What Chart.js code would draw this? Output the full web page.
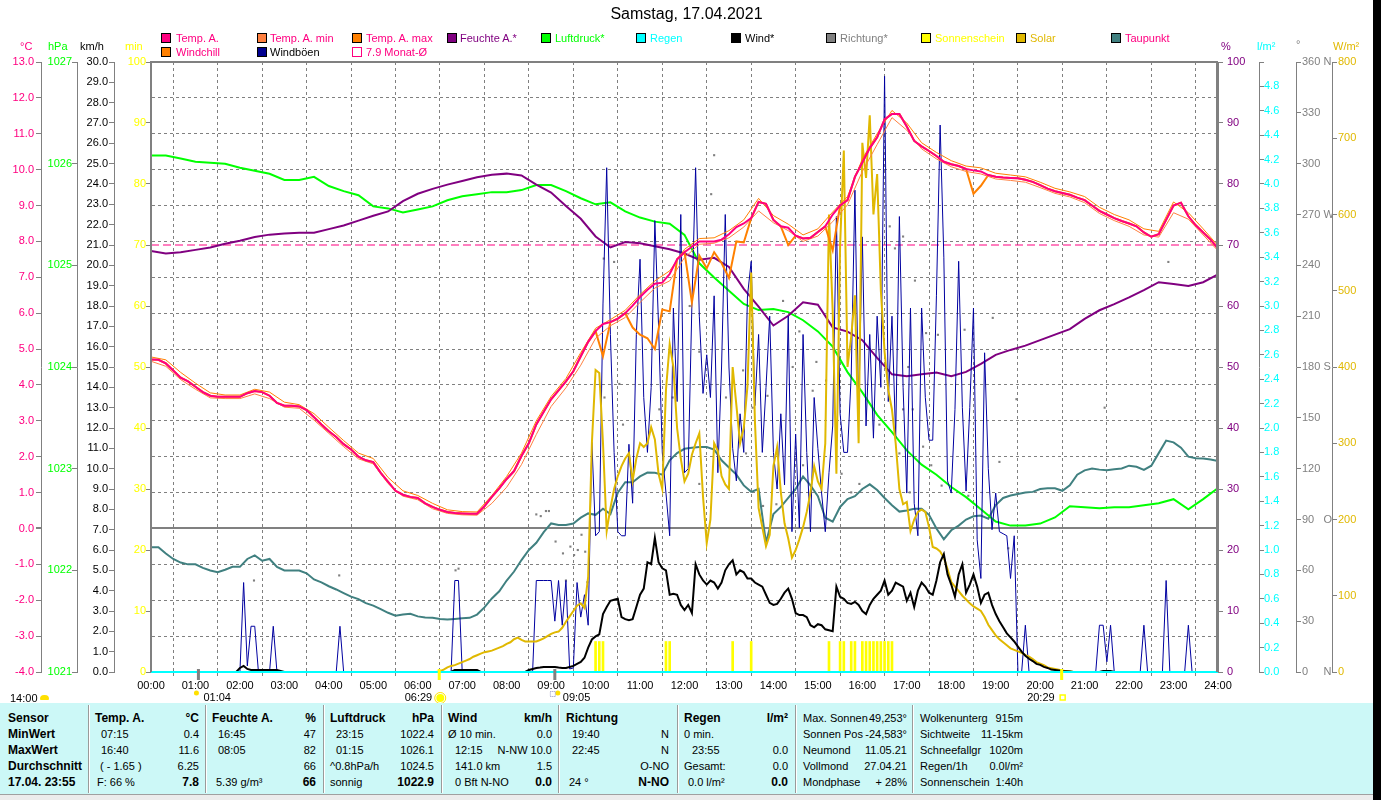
<!DOCTYPE html>
<html lang="de">
<head>
<meta charset="UTF-8">
<title>Wetter Samstag 17.04.2021</title>
<script src="https://cdn.jsdelivr.net/npm/chart.js@4.4.0/dist/chart.umd.min.js"></script>
<style>
  body { margin:0; background:#fff; font-family:"Liberation Sans", Arial, sans-serif; }
  #wrap { position:relative; width:1381px; height:800px; overflow:hidden; background:#fff; }
  #chartBox { position:absolute; left:0; top:0; width:1381px; height:703px; }
  .t { position:absolute; white-space:nowrap; font-size:11px; line-height:14px; }
  .sq { position:absolute; width:8px; height:8px; border:1px solid #000; }
  #title { position:absolute; left:0; width:1373px; top:5px; text-align:center; font-size:16px; }
  #info { position:absolute; left:0; top:703px; width:1373px; height:91px; background:#CCF8F7; font-size:11px; }
  .col { position:absolute; top:7px; }
  .r { height:16px; line-height:16px; display:flex; justify-content:space-between; white-space:nowrap; }
  .b { font-weight:bold; font-size:12px; }
  .sep { position:absolute; top:2px; width:1px; height:88px; background:#9A9A9A; border-right:1px solid #fff; }
  #foot { position:absolute; left:0; top:794px; width:1373px; height:6px; background:#ECECEC; border-top:1px solid #A0A0A0; }
  #strip { position:absolute; left:1373px; top:0; width:8px; height:800px; background:#000; }
</style>
</head>
<body>
<div id="wrap">
  <div id="chartBox"><canvas id="wetter" width="1381" height="703"></canvas></div>

  <div id="title">Samstag, 17.04.2021</div>

  <!-- Legende -->
  <div class="sq" style="left:161px;top:33px;background:#FF0080"></div><div class="t" style="left:176px;top:31px;color:#FF0080">Temp. A.</div>
  <div class="sq" style="left:257px;top:33px;background:#FF8040"></div><div class="t" style="left:270px;top:31px;color:#FF0080">Temp. A. min</div>
  <div class="sq" style="left:352px;top:33px;background:#FF8000"></div><div class="t" style="left:366px;top:31px;color:#FF0080">Temp. A. max</div>
  <div class="sq" style="left:447px;top:33px;background:#800080"></div><div class="t" style="left:460px;top:31px;color:#800080">Feuchte A.*</div>
  <div class="sq" style="left:541px;top:33px;background:#00FF00"></div><div class="t" style="left:555px;top:31px;color:#00FF00">Luftdruck*</div>
  <div class="sq" style="left:636px;top:33px;background:#00FFFF"></div><div class="t" style="left:650px;top:31px;color:#00FFFF">Regen</div>
  <div class="sq" style="left:731px;top:33px;background:#000000"></div><div class="t" style="left:745px;top:31px;color:#000">Wind*</div>
  <div class="sq" style="left:826px;top:33px;background:#808080"></div><div class="t" style="left:840px;top:31px;color:#808080">Richtung*</div>
  <div class="sq" style="left:921px;top:33px;background:#FFFF00"></div><div class="t" style="left:935px;top:31px;color:#FFFF00">Sonnenschein</div>
  <div class="sq" style="left:1016px;top:33px;background:#E0B800"></div><div class="t" style="left:1030px;top:31px;color:#E0B800">Solar</div>
  <div class="sq" style="left:1111px;top:33px;background:#408080"></div><div class="t" style="left:1125px;top:31px;color:#FF0080">Taupunkt</div>
  <div class="sq" style="left:161px;top:47px;background:#FF8000"></div><div class="t" style="left:176px;top:45px;color:#FF0080">Windchill</div>
  <div class="sq" style="left:257px;top:47px;background:#000090"></div><div class="t" style="left:270px;top:45px;color:#000">Windböen</div>
  <div class="sq" style="left:352px;top:47px;background:transparent;border-color:#FF0080"></div><div class="t" style="left:366px;top:45px;color:#FF0080">7.9 Monat-Ø</div>

  <!-- Achsen-Einheiten -->
  <div class="t" style="left:20px;top:39px;color:#FF0080">°C</div>
  <div class="t" style="left:48px;top:39px;color:#00FF00">hPa</div>
  <div class="t" style="left:80px;top:39px;color:#000">km/h</div>
  <div class="t" style="left:125px;top:39px;color:#FFFF00">min</div>
  <div class="t" style="left:1221px;top:39px;color:#800080">%</div>
  <div class="t" style="left:1257px;top:39px;color:#00FFFF">l/m²</div>
  <div class="t" style="left:1296px;top:37px;color:#808080">°</div>
  <div class="t" style="left:1333px;top:39px;color:#E0B800">W/m²</div>

  <div class="t" style="left:10px;top:691px;color:#000">14:00</div>
  <div style="position:absolute;left:40px;top:695px;width:9px;height:5px;background:#FFE000;border-radius:4px 4px 1px 1px"></div>

  <!-- Tabelle -->
  <div id="info">
    <div class="col" style="left:8px;width:78px">
      <div class="r b">Sensor</div><div class="r b">MinWert</div><div class="r b">MaxWert</div>
      <div class="r b">Durchschnitt</div><div class="r b">17.04. 23:55</div>
    </div>
    <div class="sep" style="left:88px"></div>
    <div class="col" style="left:95px;width:104px">
      <div class="r b"><span>Temp. A.</span><span>°C</span></div>
      <div class="r"><span style="padding-left:6px">07:15</span><span>0.4</span></div>
      <div class="r"><span style="padding-left:6px">16:40</span><span>11.6</span></div>
      <div class="r"><span style="padding-left:5px">( - 1.65 )</span><span>6.25</span></div>
      <div class="r"><span style="padding-left:2px">F: 66 %</span><span class="b">7.8</span></div>
    </div>
    <div class="sep" style="left:205px"></div>
    <div class="col" style="left:212px;width:104px">
      <div class="r b"><span>Feuchte A.</span><span>%</span></div>
      <div class="r"><span style="padding-left:6px">16:45</span><span>47</span></div>
      <div class="r"><span style="padding-left:6px">08:05</span><span>82</span></div>
      <div class="r"><span></span><span>66</span></div>
      <div class="r"><span style="padding-left:4px">5.39 g/m³</span><span class="b">66</span></div>
    </div>
    <div class="sep" style="left:323px"></div>
    <div class="col" style="left:330px;width:104px">
      <div class="r b"><span>Luftdruck</span><span>hPa</span></div>
      <div class="r"><span style="padding-left:6px">23:15</span><span>1022.4</span></div>
      <div class="r"><span style="padding-left:6px">01:15</span><span>1026.1</span></div>
      <div class="r"><span>^0.8hPa/h</span><span>1024.5</span></div>
      <div class="r"><span>sonnig</span><span class="b">1022.9</span></div>
    </div>
    <div class="sep" style="left:441px"></div>
    <div class="col" style="left:448px;width:104px">
      <div class="r b"><span>Wind</span><span>km/h</span></div>
      <div class="r"><span>Ø 10 min.</span><span>0.0</span></div>
      <div class="r"><span style="padding-left:7px">12:15</span><span>N-NW 10.0</span></div>
      <div class="r"><span style="padding-left:7px">141.0 km</span><span>1.5</span></div>
      <div class="r"><span style="padding-left:7px">0 Bft N-NO</span><span class="b">0.0</span></div>
    </div>
    <div class="sep" style="left:558px"></div>
    <div class="col" style="left:566px;width:103px">
      <div class="r b"><span>Richtung</span><span></span></div>
      <div class="r"><span style="padding-left:6px">19:40</span><span>N</span></div>
      <div class="r"><span style="padding-left:6px">22:45</span><span>N</span></div>
      <div class="r"><span></span><span>O-NO</span></div>
      <div class="r"><span style="padding-left:3px">24 °</span><span class="b">N-NO</span></div>
    </div>
    <div class="sep" style="left:677px"></div>
    <div class="col" style="left:684px;width:104px">
      <div class="r b"><span>Regen</span><span>l/m²</span></div>
      <div class="r"><span>0 min.</span><span></span></div>
      <div class="r"><span style="padding-left:8px">23:55</span><span>0.0</span></div>
      <div class="r"><span>Gesamt:</span><span>0.0</span></div>
      <div class="r"><span style="padding-left:4px">0.0 l/m²</span><span class="b">0.0</span></div>
    </div>
    <div class="sep" style="left:795px"></div>
    <div class="col" style="left:803px;width:104px">
      <div class="r"><span>Max. Sonnen</span><span>49,253°</span></div>
      <div class="r"><span>Sonnen Pos</span><span>-24,583°</span></div>
      <div class="r"><span>Neumond</span><span>11.05.21</span></div>
      <div class="r"><span>Vollmond</span><span>27.04.21</span></div>
      <div class="r"><span>Mondphase</span><span>+ 28%</span></div>
    </div>
    <div class="sep" style="left:912px"></div>
    <div class="col" style="left:920px;width:103px">
      <div class="r"><span>Wolkenunterg</span><span>915m</span></div>
      <div class="r"><span>Sichtweite</span><span>11-15km</span></div>
      <div class="r"><span>Schneefallgr</span><span>1020m</span></div>
      <div class="r"><span>Regen/1h</span><span>0.0l/m²</span></div>
      <div class="r"><span>Sonnenschein</span><span>1:40h</span></div>
    </div>
  </div>
  <div id="foot"></div>
  <div id="strip"></div>
</div>

<script>
// --- Messwerte 17.04.2021 (Zeit in Minuten ab 00:00) ---

const hourLabels = ['00:00','01:00','02:00','03:00','04:00','05:00','06:00','07:00','08:00','09:00',
  '10:00','11:00','12:00','13:00','14:00','15:00','16:00','17:00','18:00','19:00',
  '20:00','21:00','22:00','23:00','24:00'];

// Temp. A. alle 10 min (°C)
const tempA = [
  4.71,4.70,4.60,4.40,4.20,4.10,3.95,3.80,3.70,3.67,
  3.67,3.67,3.67,3.77,3.83,3.80,3.70,3.50,3.42,3.42,
  3.40,3.30,3.10,2.90,2.71,2.55,2.35,2.20,2.00,1.90,
  1.85,1.55,1.30,1.05,0.94,0.88,0.85,0.70,0.60,0.52,
  0.46,0.43,0.42,0.41,0.41,0.62,0.88,1.12,1.38,1.60,
  2.02,2.38,2.90,3.25,3.60,3.85,4.10,4.38,4.80,5.20,
  5.50,5.70,5.75,5.85,6.00,6.21,6.45,6.65,6.82,6.85,
  7.09,7.50,7.70,7.85,8.00,8.00,8.00,8.05,8.20,8.40,
  8.50,8.65,9.10,9.05,8.60,8.42,8.38,8.16,8.08,8.10,
  8.26,8.42,8.75,9.00,9.15,9.80,10.20,10.60,10.90,11.40,
  11.55,11.55,11.20,10.80,10.65,10.52,10.38,10.22,10.15,10.10,
  10.02,9.98,9.95,9.85,9.80,9.78,9.77,9.76,9.72,9.66,
  9.57,9.47,9.40,9.35,9.30,9.22,9.15,9.00,8.85,8.75,
  8.65,8.57,8.50,8.42,8.25,8.13,8.20,8.60,9.00,9.08,
  8.70,8.45,8.25,8.05,7.80];

// Windchill alle 10 min (°C)
const windchill = [
  4.71,4.70,4.60,4.40,4.20,4.10,3.95,3.80,3.70,3.67,
  3.67,3.67,3.67,3.77,3.83,3.80,3.70,3.50,3.42,3.42,
  3.40,3.30,3.10,2.90,2.71,2.55,2.35,2.20,2.00,1.90,
  1.85,1.55,1.30,1.05,0.94,0.88,0.85,0.70,0.60,0.52,
  0.46,0.43,0.42,0.41,0.41,0.62,0.88,1.12,1.38,1.60,
  2.02,2.38,2.90,3.25,3.60,3.85,4.10,4.38,4.80,5.20,
  5.50,4.80,5.75,5.85,6.00,5.60,5.40,5.30,5.00,6.10,
  6.05,7.50,7.70,6.30,7.60,7.25,7.70,7.40,6.98,8.00,
  7.97,8.65,9.10,9.05,8.60,8.42,7.90,8.16,8.08,8.10,
  8.26,8.42,7.75,9.00,9.15,9.80,10.20,10.60,10.90,11.40,
  11.55,11.55,11.20,10.80,10.65,10.52,10.38,10.22,10.15,10.10,
  10.02,9.33,9.55,9.85,9.80,9.78,9.77,9.76,9.72,9.66,
  9.57,9.47,9.40,9.35,9.30,9.22,9.15,9.00,8.85,8.75,
  8.65,8.57,8.50,8.42,8.25,8.13,8.20,8.60,9.00,9.08,
  8.70,8.45,8.25,8.05,7.80];

// Temp. A. max / min alle 20 min (°C)
const tempMax = [
  4.78,4.70,4.35,4.05,3.78,3.72,3.72,3.88,3.80,3.52,
  3.45,3.20,2.82,2.45,2.10,1.95,1.42,1.05,0.92,0.70,
  0.52,0.47,0.46,0.92,1.45,2.10,3.00,3.68,4.18,4.90,
  5.58,5.82,6.08,6.52,6.90,7.18,7.78,8.08,8.10,8.30,
  8.60,9.20,8.72,8.48,8.18,8.35,8.82,9.25,10.30,11.00,
  11.65,11.30,10.75,10.48,10.25,10.10,10.05,9.90,9.85,9.80,
  9.65,9.48,9.38,9.25,8.95,8.75,8.60,8.35,8.28,9.10,
  8.80,8.35,7.88];
const tempMin = [
  4.66,4.52,4.15,3.88,3.64,3.62,3.62,3.75,3.62,3.38,
  3.35,3.02,2.65,2.28,1.94,1.80,1.25,0.90,0.80,0.55,
  0.42,0.38,0.37,0.70,1.15,1.78,2.62,3.40,3.92,4.55,
  5.30,5.65,5.88,6.30,6.70,6.90,7.55,7.92,7.95,8.10,
  8.40,8.85,8.52,8.30,8.00,8.15,8.55,9.02,9.95,10.70,
  11.45,11.10,10.58,10.30,10.08,9.95,9.88,9.74,9.70,9.65,
  9.50,9.34,9.24,9.08,8.78,8.58,8.42,8.18,8.12,8.80,
  8.62,8.18,7.74];

// Feuchte A. alle 20 min (%)
const humidity = [
  69.0,68.6,68.8,69.2,69.6,70.2,70.7,71.3,71.7,71.9,
  72.0,72.0,72.6,73.2,74.0,74.8,75.5,77.2,78.4,79.2,
  79.9,80.5,81.1,81.5,81.7,81.4,79.9,78.6,76.4,74.3,
  71.4,69.6,70.5,70.3,69.8,69.3,68.6,67.6,67.9,66.4,
  62.8,59.9,56.8,58.4,60.6,60.2,56.5,55.8,54.4,51.5,
  48.8,48.5,48.8,49.1,48.5,49.2,50.5,52.0,52.8,53.5,
  54.4,55.3,56.2,57.9,59.3,60.3,61.4,62.6,63.9,63.6,
  63.3,63.9,65.2];

// Luftdruck alle 20 min (hPa)
const pressure = [
  1026.08,1026.08,1026.05,1026.02,1026.01,1026.00,1025.96,1025.93,1025.90,1025.84,
  1025.84,1025.87,1025.78,1025.73,1025.69,1025.58,1025.56,1025.52,1025.55,1025.58,
  1025.64,1025.68,1025.70,1025.72,1025.72,1025.74,1025.79,1025.79,1025.73,1025.66,
  1025.60,1025.62,1025.53,1025.47,1025.43,1025.41,1025.30,1025.02,1024.88,1024.75,
  1024.62,1024.56,1024.57,1024.54,1024.46,1024.35,1024.20,1023.95,1023.75,1023.53,
  1023.36,1023.18,1023.04,1022.94,1022.82,1022.72,1022.60,1022.48,1022.44,1022.44,
  1022.46,1022.52,1022.63,1022.62,1022.61,1022.62,1022.62,1022.64,1022.66,1022.70,
  1022.60,1022.70,1022.81];

// Taupunkt alle 10 min (°C)
const dewpoint = [
  -0.52,-0.52,-0.70,-0.85,-0.95,-1.00,-1.00,-1.10,-1.17,-1.22,
  -1.15,-1.07,-1.07,-0.85,-0.75,-0.90,-0.85,-1.07,-1.17,-1.17,
  -1.17,-1.25,-1.42,-1.50,-1.61,-1.70,-1.80,-1.90,-1.97,-2.08,
  -2.15,-2.25,-2.35,-2.43,-2.40,-2.38,-2.45,-2.48,-2.49,-2.52,
  -2.54,-2.52,-2.50,-2.49,-2.40,-2.20,-1.95,-1.75,-1.45,-1.20,
  -0.88,-0.60,-0.40,-0.10,0.14,0.10,0.10,0.14,0.30,0.42,
  0.38,0.55,0.40,1.00,1.29,1.29,1.45,1.56,1.55,1.50,
  1.90,2.10,2.22,2.25,2.27,2.27,2.20,1.90,1.70,1.50,
  1.20,1.02,1.10,-0.40,0.40,0.60,0.85,1.10,1.45,1.20,
  0.90,0.30,0.19,0.60,0.82,0.90,1.10,1.23,1.07,0.85,
  0.65,0.47,0.50,0.55,0.55,0.38,0.00,-0.30,-0.05,0.08,
  0.25,0.34,0.36,0.27,0.65,0.85,0.92,0.96,1.00,1.02,
  1.10,1.12,1.12,1.05,1.20,1.50,1.62,1.67,1.64,1.62,
  1.65,1.67,1.75,1.72,1.63,1.75,2.10,2.45,2.40,2.25,
  2.00,1.96,1.95,1.92,1.88];

// Wind* alle 5 min (km/h), eine Zeile je Stunde
const wind = [
  0,0,0,0,0,0,0,0,0,0,0,0,
  0,0,0,0,0,0,0,0,0,0,0,0,
  0.20,0.30,0.15,0.10,0.10,0.10,0.10,0.10,0.10,0.10,0.10,0.05,
  0,0,0,0,0,0,0,0,0,0,0,0,
  0,0,0,0,0,0,0,0,0,0,0,0,
  0,0,0,0,0,0,0,0,0,0,0,0,
  0,0,0,0,0,0,0,0,0,0,0.10,0.10,
  0.10,0.10,0.10,0.10,0.10,0,0,0,0,0,0,0,
  0,0,0,0,0,0,0.10,0.15,0.20,0.22,0.25,0.25,
  0.25,0.25,0.22,0.20,0.20,0.25,0.30,0.40,0.50,0.70,1.20,1.60,
  1.75,1.85,2.85,3.20,3.50,3.55,3.60,2.70,2.60,2.55,2.60,3.20,
  3.80,4.10,5.40,5.30,6.60,5.40,5.10,5.00,3.80,3.85,3.80,3.30,
  3.05,3.30,2.90,5.30,4.80,4.50,4.30,4.50,4.40,4.10,4.40,5.00,
  5.30,5.50,4.80,5.00,4.90,4.60,4.60,4.40,4.30,4.20,3.80,3.40,
  3.30,3.35,3.60,3.90,4.10,3.60,2.90,2.80,2.80,2.70,2.30,2.20,
  2.35,2.30,2.10,2.05,2.00,4.20,3.70,3.60,3.40,3.35,3.45,3.30,
  3.00,2.85,3.30,3.60,3.80,4.00,4.50,3.80,4.00,4.40,4.30,4.20,
  3.50,3.90,3.20,4.00,4.40,4.20,3.90,3.80,4.50,5.40,5.80,4.80,
  4.30,3.70,4.80,5.30,3.90,4.30,4.80,4.20,3.40,3.80,3.90,3.30,
  2.85,2.50,2.20,1.90,1.70,1.50,1.25,1.00,0.80,0.65,0.54,0.40,
  0.35,0.25,0.20,0.12,0.10,0.08,0.05,0.04,0.02,0,0,0,
  0,0,0,0,0,0.05,0.05,0.05,0,0,0,0,
  0,0,0,0,0,0,0,0,0,0,0,0,
  0,0,0,0,0,0,0,0,0,0,0,0,
  0];

// Windböen alle 5 min (km/h)
const gusts = [
  0,0,0,0,0,0,0,0,0,0,0,0,
  0,0,0,0,0,0,0,0,0,0,0,0,
  0,4.40,0.30,2.25,2.25,0,0,0,0,2.25,0,0,
  0,0,0,0,0,0,0,0,0,0,0,0,
  0,0,0,2.25,0,0,0,0,0,0,0,0,
  0,0,0,0,0,0,0,0,0,0,0,0,
  0,0,0,0,0,0,0,0,0,0,4.50,4.50,
  0,0,0,0,0,0,0,0,0,0,0,0,
  0,0,0,0,0,0,0,0,4.50,4.50,4.50,4.50,
  4.50,2.50,4.50,2.30,4.50,0.15,0.20,4.40,2.70,3.80,2.30,11.30,
  6.70,6.90,18.10,24.80,16.60,10.80,6.90,6.70,6.70,11.20,8.30,16.60,
  20.30,13.50,10.80,14.00,22.20,17.00,10.80,8.80,6.70,17.90,13.30,22.50,
  9.80,10.00,18.10,24.80,17.50,13.70,15.60,13.50,18.50,9.80,15.00,22.50,
  15.00,11.00,9.40,12.70,10.80,18.50,20.20,13.10,16.60,10.80,14.00,17.50,
  10.80,9.00,12.70,9.20,17.50,6.90,11.70,7.10,16.60,10.80,6.90,13.50,
  11.00,8.80,6.90,9.80,12.10,22.40,12.70,10.80,10.80,14.60,23.70,12.70,
  21.40,12.10,16.60,11.50,17.50,14.00,29.30,13.30,17.50,11.50,22.40,14.00,
  8.80,17.90,8.30,6.70,17.90,13.50,11.40,11.40,18.50,26.90,20.40,9.40,
  8.80,12.90,20.20,13.00,8.90,13.00,17.90,6.50,4.60,15.70,10.00,7.00,
  8.80,6.90,6.80,6.70,4.60,6.70,0,0,2.30,0,0,0,
  0,0,0,0,0,0,0,0,0,0,0,0,
  0,0,0,0,2.30,2.30,0.50,2.30,0,0,0,0,
  0,0,0,0,2.30,0,0,0,0,0,4.50,0,
  0,0,0,0,2.30,0,0,0,0,0,0,0,
  0];

// Solar alle 5 min (W/m²)
const solar = [
  0,0,0,0,0,0,0,0,0,0,0,0,
  0,0,0,0,0,0,0,0,0,0,0,0,
  0,0,0,0,0,0,0,0,0,0,0,0,
  0,0,0,0,0,0,0,0,0,0,0,0,
  0,0,0,0,0,0,0,0,0,0,0,0,
  0,0,0,0,0,0,0,0,0,0,0,0,
  0,0,0,0,0,0,1,3,6,8,9,11,
  13,15,17,20,22,24,26,27,28,30,32,34,
  37,39,43,45,42,40,40,40,40,42,44,47,
  50,52,53,58,66,73,80,87,90,84,125,300,
  396,392,300,185,215,240,257,270,280,287,251,280,
  300,295,300,321,305,260,240,370,430,400,320,280,
  250,260,285,300,313,230,169,200,300,290,257,246,
  240,400,350,300,320,375,524,330,215,190,165,180,
  270,295,236,195,175,150,160,174,190,210,235,270,
  250,240,300,600,473,260,560,684,400,440,494,300,
  694,648,730,600,653,500,420,370,344,300,240,220,
  223,185,200,210,213,210,190,164,162,158,150,135,
  118,112,106,100,95,90,86,83,80,72,62,55,
  48,43,39,35,31,29,27,25,22,20,17,13,
  11,9,6,5,4,3,2,1,1,0,0,0,
  0,0,0,0,0,0,0,0,0,0,0,0,
  0,0,0,0,0,0,0,0,0,0,0,0,
  0,0,0,0,0,0,0,0,0,0,0,0,
  0];

// Sonnenschein (min je 5-min-Intervall)
const sunTimes = [600,605,610,695,700,785,810,915,930,935,945,950,960,965,970,975,980,985,990,995,1000];
const sunMinutes = [5,5,5,5,5,5,5,5,5,5,5,5,5,5,5,5,5,5,5,5,5];

// Richtung* (Grad)
const dirTimes = [139,254,411,415,520,526,533,537,546,556,560,566,571,576,581,586,589,
  611,612,625,632,637,686,704,727,740,740,756,760,776,799,803,812,826,832,844,853,866,
  875,880,893,898,911,932,945,956,983,997,1004,1010,1015,1015,1022,1024,1028,1031,1042,
  1046,1053,1062,1067,1098,1103,1136,1145,1157,1168,1287,1373];
const dirDegrees = [54,57,60,61,93,92,95,95,77,70,54,74,69,72,81,71,53,
  244,162,242,170,146,155,162,216,189,111,282,305,162,178,129,156,98,163,99,219,180,
  201,122,166,183,172,117,106,111,146,263,250,129,257,155,180,106,155,231,133,
  200,122,199,110,202,104,209,124,73,161,156,242];

// Regen (l/m²)
const rainTimes = [0, 1440];
const rainValues = [0, 0];

const monthAvg = 7.9;

// Sonne / Mond
const eventTimes = [64, 389, 545, 1229];
const eventLabels = ['01:04', '06:29', '09:05', '20:29'];
const eventKinds = ['moonset', 'sunrise', 'moonrise', 'sunset'];

const compass = {0: 'N', 90: 'O', 180: 'S', 270: 'W', 360: 'N'};

// --- Aufbau ---
const byStep = (vals, step) => vals.map((v, i) => ({x: i * step, y: v}));
const byTimes = (times, vals) => times.map((t, i) => ({x: t, y: vals[i]}));

const GRAY = '#808080';
Chart.defaults.font.family = '"Liberation Sans", Arial, sans-serif';
Chart.defaults.font.size = 11;

function sideAxis(position, weight, width, min, max, step, color, pad, fmt) {
  return {
    type: 'linear', position, weight, min, max,
    afterFit: s => { s.width = width; },
    ticks: { stepSize: step, color, autoSkip: false, maxTicksLimit: 1000, padding: pad, callback: fmt },
    grid: { drawOnChartArea: false, color: GRAY, tickLength: 5 },
    border: { color: GRAY, width: 1 }
  };
}

const line = (label, data, axis, color, width, extra) => Object.assign({
  label, data, yAxisID: axis, borderColor: color, backgroundColor: color,
  borderWidth: width, pointRadius: 0, tension: 0, fill: false
}, extra || {});

const frame = {
  id: 'frame',
  afterDatasetsDraw(chart) {
    const {ctx, chartArea: a} = chart;
    ctx.save();
    ctx.strokeStyle = GRAY;
    ctx.lineWidth = 2;
    ctx.beginPath();
    ctx.moveTo(a.left, a.bottom);
    ctx.lineTo(a.left, a.top);
    ctx.lineTo(a.right - 1, a.top);
    ctx.lineTo(a.right - 1, a.bottom);
    ctx.stroke();
    ctx.restore();
  }
};

const dayMarks = {
  id: 'dayMarks',
  afterDraw(chart) {
    const {ctx, chartArea: a, scales: {x}} = chart;
    const ly = a.bottom + 26;
    ctx.save();
    ctx.font = '11px "Liberation Sans", Arial, sans-serif';
    ctx.textBaseline = 'middle';
    eventTimes.forEach((t, i) => {
      const px = x.getPixelForValue(t);
      const kind = eventKinds[i];
      const sun = kind.indexOf('sun') === 0;
      ctx.fillStyle = sun ? '#FFFF00' : GRAY;
      ctx.fillRect(px - 1.5, a.bottom - 3, 3, 11);
      ctx.fillStyle = '#000';
      if (sun) {
        ctx.textAlign = 'right';
        ctx.fillText(eventLabels[i], px - 7, ly);
      } else {
        ctx.textAlign = 'left';
        ctx.fillText(eventLabels[i], px + (kind === 'moonset' ? 5 : 8), ly);
      }
      if (kind === 'sunrise') {
        ctx.fillStyle = '#FFFF00';
        ctx.beginPath(); ctx.arc(px + 1, ly, 4, 0, Math.PI * 2); ctx.fill();
        ctx.strokeStyle = '#FFE000'; ctx.lineWidth = 1;
        ctx.beginPath(); ctx.arc(px + 1, ly, 5.5, 0, Math.PI * 2); ctx.stroke();
      } else if (kind === 'sunset') {
        ctx.strokeStyle = '#FFFF00'; ctx.lineWidth = 1.5;
        ctx.strokeRect(px - 1.5, ly - 3, 5, 5);
      } else {
        ctx.fillStyle = '#FFE000';
        ctx.beginPath(); ctx.arc(px + (kind === 'moonset' ? -2 : 3), a.bottom + 21, 2.5, 0, Math.PI * 2); ctx.fill();
        if (kind === 'moonrise') {
          ctx.strokeStyle = '#9090C0'; ctx.lineWidth = 1; ctx.setLineDash([1, 1]);
          ctx.strokeRect(px - 4.5, a.bottom + 19.5, 5, 5);
          ctx.setLineDash([]);
        }
      }
    });
    ctx.restore();
  }
};

new Chart(document.getElementById('wetter'), {
  type: 'line',
  data: {
    datasets: [
      line('Regen', byTimes(rainTimes, rainValues), 'yRain', '#00FFFF', 2, {clip: false}),
      line('Temp. A.', byStep(tempA, 10), 'yT', '#FF0080', 2),
      line('Temp. A. max', byStep(tempMax, 20), 'yT', '#FF8000', 1),
      line('Temp. A. min', byStep(tempMin, 20), 'yT', '#FF8040', 1),
      line('Windchill', byStep(windchill, 10), 'yT', '#FF8000', 2),
      line('Wind*', byStep(wind, 5), 'yKmh', '#000000', 2),
      line('Solar', byStep(solar, 5), 'yW', '#E0B800', 2),
      line('Windböen', byStep(gusts, 5), 'yKmh', '#0000A0', 1),
      line('Feuchte A.*', byStep(humidity, 20), 'yH', '#800080', 2),
      line('Luftdruck*', byStep(pressure, 20), 'yP', '#00FF00', 2),
      line('Taupunkt', byStep(dewpoint, 10), 'yT', '#408080', 2),
      line('Richtung*', byTimes(dirTimes, dirDegrees), 'yDir', GRAY, 0,
        {showLine: false, pointRadius: 1.5, pointStyle: 'rect', pointBorderWidth: 0, pointBackgroundColor: GRAY}),
      {type: 'bar', label: 'Sonnenschein', data: byTimes(sunTimes, sunMinutes), yAxisID: 'yMin',
        backgroundColor: '#FFFF00', borderWidth: 0, barThickness: 2},
      line('7.9 Monat-Ø', byTimes(rainTimes, [monthAvg, monthAvg]), 'yT', '#FF0080', 1, {borderDash: [8, 4]})
    ]
  },
  options: {
    responsive: false,
    devicePixelRatio: 1,
    animation: false,
    events: [],
    layout: { autoPadding: false, padding: {left: 0, right: 8, top: 62, bottom: 0} },
    plugins: { legend: {display: false}, tooltip: {enabled: false}, title: {display: false} },
    scales: {
      x: {
        type: 'linear', min: 0, max: 1440, offset: false,
        afterFit: s => { s.height = 31; },
        ticks: { stepSize: 60, autoSkip: false, maxRotation: 0, minRotation: 0, color: '#000', padding: 3,
          callback: v => hourLabels[v / 60] },
        grid: { color: GRAY, lineWidth: 1, tickLength: 4, tickColor: GRAY },
        border: { color: GRAY, width: 1, dash: [3, 3] }
      },
      yT: Object.assign(sideAxis('left', 4, 41, -4, 13, 1, '#FF0080', 2, v => v.toFixed(1)), {
        grid: { drawOnChartArea: true, color: GRAY, tickLength: 5,
          lineWidth: c => (c.tick && c.tick.value === 0 ? 2 : 1) },
        border: { color: GRAY, width: 1, dash: c => (c.tick && c.tick.value === 0 ? [] : [3, 3]) }
      }),
      yP: sideAxis('left', 3, 36, 1021, 1027, 1, '#00FF00', 0, v => String(v)),
      yKmh: sideAxis('left', 2, 37, 0, 30, 1, '#000000', 1, v => v.toFixed(1)),
      yMin: sideAxis('left', 1, 37, 0, 100, 10, '#FFFF00', 0, v => String(v)),
      yH: sideAxis('right', 1, 41, 0, 100, 10, '#800080', 4, v => String(v)),
      yRain: sideAxis('right', 2, 37, 0, 5, 0.2, '#00FFFF', 0, v => (v > 4.9 ? '' : v.toFixed(1))),
      yDir: sideAxis('right', 3, 36, 0, 360, 30, GRAY, 1, v => {
        const c = compass[v];
        if (!c) return String(v);
        const s = String(v);
        return s + ' '.repeat(1 + (3 - s.length) * 2) + c;
      }),
      yW: sideAxis('right', 4, 41, 0, 800, 100, '#E0B800', 1, v => String(v))
    }
  },
  plugins: [frame, dayMarks]
});
</script>
</body>
</html>
